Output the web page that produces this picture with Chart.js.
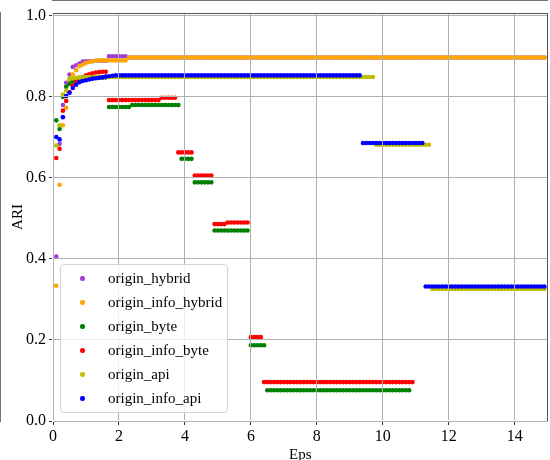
<!DOCTYPE html>
<html>
<head>
<meta charset="utf-8">
<script src="https://cdn.jsdelivr.net/npm/chart.js@4.4.0/dist/chart.umd.min.js"></script>
<style>
  html, body { margin: 0; padding: 0; background: #fff; }
  #wrap { position: relative; width: 550px; height: 460px; overflow: hidden; }
  #box { position: absolute; border-top: 1px solid #555; border-right: 1px solid #555; pointer-events: none; box-sizing: border-box; }
  #legend {
    position: absolute; left: 60px; top: 264px; width: 168px; height: 149px;
    box-sizing: border-box; padding-top: 1px;
    border: 1px solid #d4d4d4; border-radius: 4px; background: rgba(255,255,255,0.8);
    font: 15px "Liberation Serif", "Times New Roman", serif; color: #000;
  }
  #legend .item { position: relative; height: 24px; line-height: 24px; padding-left: 47px; white-space: nowrap; }
  #legend .dot { position: absolute; left: 19px; top: 10px; width: 4.5px; height: 4.5px; border-radius: 50%; }
</style>
</head>
<body>
<div id="wrap">
  <canvas id="ariChart" width="550" height="460"></canvas>
  <div id="box"></div>
  <div id="legend"></div>
</div>
<script>
// eps sweep, 0.1 .. 14.9
const eps = [
  0.1, 0.2, 0.3, 0.4, 0.5, 0.6, 0.7, 0.8, 0.9, 1.0,
  1.1, 1.2, 1.3, 1.4, 1.5, 1.6, 1.7, 1.8, 1.9, 2.0,
  2.1, 2.2, 2.3, 2.4, 2.5, 2.6, 2.7, 2.8, 2.9, 3.0,
  3.1, 3.2, 3.3, 3.4, 3.5, 3.6, 3.7, 3.8, 3.9, 4.0,
  4.1, 4.2, 4.3, 4.4, 4.5, 4.6, 4.7, 4.8, 4.9, 5.0,
  5.1, 5.2, 5.3, 5.4, 5.5, 5.6, 5.7, 5.8, 5.9, 6.0,
  6.1, 6.2, 6.3, 6.4, 6.5, 6.6, 6.7, 6.8, 6.9, 7.0,
  7.1, 7.2, 7.3, 7.4, 7.5, 7.6, 7.7, 7.8, 7.9, 8.0,
  8.1, 8.2, 8.3, 8.4, 8.5, 8.6, 8.7, 8.8, 8.9, 9.0,
  9.1, 9.2, 9.3, 9.4, 9.5, 9.6, 9.7, 9.8, 9.9, 10.0,
  10.1, 10.2, 10.3, 10.4, 10.5, 10.6, 10.7, 10.8, 10.9, 11.0,
  11.1, 11.2, 11.3, 11.4, 11.5, 11.6, 11.7, 11.8, 11.9, 12.0,
  12.1, 12.2, 12.3, 12.4, 12.5, 12.6, 12.7, 12.8, 12.9, 13.0,
  13.1, 13.2, 13.3, 13.4, 13.5, 13.6, 13.7, 13.8, 13.9, 14.0,
  14.1, 14.2, 14.3, 14.4, 14.5, 14.6, 14.7, 14.8, 14.9
];

const originHybrid = [
  0.406, 0.684, 0.780, 0.835, 0.855, 0.874, 0.878, 0.882, 0.887, 0.888,
  0.888, 0.888, 0.889, 0.889, 0.889, 0.889, 0.900, 0.900, 0.900, 0.900,
  0.900, 0.900, 0.897, 0.897, 0.897, 0.897, 0.897, 0.897, 0.897, 0.897,
  0.897, 0.897, 0.897, 0.897, 0.897, 0.897, 0.897, 0.897, 0.897, 0.897,
  0.897, 0.897, 0.897, 0.897, 0.897, 0.897, 0.897, 0.897, 0.897, 0.897,
  0.897, 0.897, 0.897, 0.897, 0.897, 0.897, 0.897, 0.897, 0.897, 0.897,
  0.897, 0.897, 0.897, 0.897, 0.897, 0.897, 0.897, 0.897, 0.897, 0.897,
  0.897, 0.897, 0.897, 0.897, 0.897, 0.897, 0.897, 0.897, 0.897, 0.897,
  0.897, 0.897, 0.897, 0.897, 0.897, 0.897, 0.897, 0.897, 0.897, 0.897,
  0.897, 0.897, 0.897, 0.897, 0.897, 0.897, 0.897, 0.897, 0.897, 0.897,
  0.897, 0.897, 0.897, 0.897, 0.897, 0.897, 0.897, 0.897, 0.897, 0.897,
  0.897, 0.897, 0.897, 0.897, 0.897, 0.897, 0.897, 0.897, 0.897, 0.897,
  0.897, 0.897, 0.897, 0.897, 0.897, 0.897, 0.897, 0.897, 0.897, 0.897,
  0.897, 0.897, 0.897, 0.897, 0.897, 0.897, 0.897, 0.897, 0.897, 0.897,
  0.897, 0.897, 0.897, 0.897, 0.897, 0.897, 0.897, 0.897, 0.897
];

const originInfoHybrid = [
  0.334, 0.583, 0.730, 0.773, 0.840, 0.855, 0.866, 0.876, 0.880, 0.884,
  0.886, 0.888, 0.889, 0.890, 0.890, 0.890, 0.890, 0.890, 0.890, 0.890,
  0.890, 0.890, 0.897, 0.897, 0.897, 0.897, 0.897, 0.897, 0.897, 0.897,
  0.897, 0.897, 0.897, 0.897, 0.897, 0.897, 0.897, 0.897, 0.897, 0.897,
  0.897, 0.897, 0.897, 0.897, 0.897, 0.897, 0.897, 0.897, 0.897, 0.897,
  0.897, 0.897, 0.897, 0.897, 0.897, 0.897, 0.897, 0.897, 0.897, 0.897,
  0.897, 0.897, 0.897, 0.897, 0.897, 0.897, 0.897, 0.897, 0.897, 0.897,
  0.897, 0.897, 0.897, 0.897, 0.897, 0.897, 0.897, 0.897, 0.897, 0.897,
  0.897, 0.897, 0.897, 0.897, 0.897, 0.897, 0.897, 0.897, 0.897, 0.897,
  0.897, 0.897, 0.897, 0.897, 0.897, 0.897, 0.897, 0.897, 0.897, 0.897,
  0.897, 0.897, 0.897, 0.897, 0.897, 0.897, 0.897, 0.897, 0.897, 0.897,
  0.897, 0.897, 0.897, 0.897, 0.897, 0.897, 0.897, 0.897, 0.897, 0.897,
  0.897, 0.897, 0.897, 0.897, 0.897, 0.897, 0.897, 0.897, 0.897, 0.897,
  0.897, 0.897, 0.897, 0.897, 0.897, 0.897, 0.897, 0.897, 0.897, 0.897,
  0.897, 0.897, 0.897, 0.897, 0.897, 0.897, 0.897, 0.897, 0.897
];

const originByte = [
  0.742, 0.721, 0.800, 0.825, 0.832, 0.838, 0.840, 0.842, 0.843, 0.844,
  0.845, 0.846, 0.847, 0.848, 0.848, 0.848, 0.775, 0.775, 0.775, 0.775,
  0.775, 0.775, 0.775, 0.780, 0.780, 0.780, 0.780, 0.780, 0.780, 0.780,
  0.780, 0.780, 0.780, 0.780, 0.780, 0.780, 0.780, 0.780, 0.647, 0.647,
  0.647, 0.647, 0.589, 0.589, 0.589, 0.589, 0.589, 0.589, 0.470, 0.470,
  0.470, 0.470, 0.470, 0.470, 0.470, 0.470, 0.470, 0.470, 0.470, 0.187,
  0.187, 0.187, 0.187, 0.187, 0.076, 0.076, 0.076, 0.076, 0.076, 0.076,
  0.076, 0.076, 0.076, 0.076, 0.076, 0.076, 0.076, 0.076, 0.076, 0.076,
  0.076, 0.076, 0.076, 0.076, 0.076, 0.076, 0.076, 0.076, 0.076, 0.076,
  0.076, 0.076, 0.076, 0.076, 0.076, 0.076, 0.076, 0.076, 0.076, 0.076,
  0.076, 0.076, 0.076, 0.076, 0.076, 0.076, 0.076, 0.076, null, null,
  null, null, null, null, null, null, null, null, null, null,
  null, null, null, null, null, null, null, null, null, null,
  null, null, null, null, null, null, null, null, null, null,
  null, null, null, null, null, null, null, null, null
];

const originInfoByte = [
  0.649, 0.672, 0.766, 0.790, 0.812, 0.828, 0.836, 0.843, 0.848, 0.853,
  0.856, 0.858, 0.860, 0.861, 0.862, 0.862, 0.792, 0.792, 0.792, 0.792,
  0.792, 0.792, 0.792, 0.792, 0.792, 0.792, 0.792, 0.792, 0.792, 0.792,
  0.792, 0.792, 0.798, 0.798, 0.798, 0.798, 0.798, 0.663, 0.663, 0.663,
  0.663, 0.663, 0.606, 0.606, 0.606, 0.606, 0.606, 0.606, 0.486, 0.486,
  0.486, 0.486, 0.490, 0.490, 0.490, 0.490, 0.490, 0.490, 0.490, 0.207,
  0.207, 0.207, 0.207, 0.096, 0.096, 0.096, 0.096, 0.096, 0.096, 0.096,
  0.096, 0.096, 0.096, 0.096, 0.096, 0.096, 0.096, 0.096, 0.096, 0.096,
  0.096, 0.096, 0.096, 0.096, 0.096, 0.096, 0.096, 0.096, 0.096, 0.096,
  0.096, 0.096, 0.096, 0.096, 0.096, 0.096, 0.096, 0.096, 0.096, 0.096,
  0.096, 0.096, 0.096, 0.096, 0.096, 0.096, 0.096, 0.096, 0.096, null,
  null, null, null, null, null, null, null, null, null, null,
  null, null, null, null, null, null, null, null, null, null,
  null, null, null, null, null, null, null, null, null, null,
  null, null, null, null, null, null, null, null, null
];

const originApi = [
  0.680, 0.730, 0.806, 0.815, 0.845, 0.846, 0.847, 0.848, 0.848, 0.849,
  0.849, 0.849, 0.849, 0.849, 0.849, 0.849, 0.849, 0.849, 0.849, 0.849,
  0.849, 0.849, 0.849, 0.849, 0.849, 0.849, 0.849, 0.849, 0.849, 0.849,
  0.849, 0.849, 0.849, 0.849, 0.849, 0.849, 0.849, 0.849, 0.849, 0.849,
  0.849, 0.849, 0.849, 0.849, 0.849, 0.849, 0.849, 0.849, 0.849, 0.849,
  0.849, 0.849, 0.849, 0.849, 0.849, 0.849, 0.849, 0.849, 0.849, 0.849,
  0.849, 0.849, 0.849, 0.849, 0.849, 0.849, 0.849, 0.849, 0.849, 0.849,
  0.849, 0.849, 0.849, 0.849, 0.849, 0.849, 0.849, 0.849, 0.849, 0.849,
  0.849, 0.849, 0.849, 0.849, 0.849, 0.849, 0.849, 0.849, 0.849, 0.849,
  0.849, 0.849, 0.849, 0.849, 0.849, 0.849, 0.849, 0.682, 0.682, 0.682,
  0.682, 0.682, 0.682, 0.682, 0.682, 0.682, 0.682, 0.682, 0.682, 0.682,
  0.682, 0.682, 0.682, 0.682, 0.326, 0.326, 0.326, 0.326, 0.326, 0.326,
  0.326, 0.326, 0.326, 0.326, 0.326, 0.326, 0.326, 0.326, 0.326, 0.326,
  0.326, 0.326, 0.326, 0.326, 0.326, 0.326, 0.326, 0.326, 0.326, 0.326,
  0.326, 0.326, 0.326, 0.326, 0.326, 0.326, 0.326, 0.326, 0.326
];

const originInfoApi = [
  0.701, 0.695, 0.750, 0.802, 0.810, 0.822, 0.830, 0.836, 0.839, 0.841,
  0.843, 0.845, 0.846, 0.847, 0.848, 0.850, 0.851, 0.852, 0.853, 0.853,
  0.853, 0.853, 0.853, 0.853, 0.853, 0.853, 0.853, 0.853, 0.853, 0.853,
  0.853, 0.853, 0.853, 0.853, 0.853, 0.853, 0.853, 0.853, 0.853, 0.853,
  0.853, 0.853, 0.853, 0.853, 0.853, 0.853, 0.853, 0.853, 0.853, 0.853,
  0.853, 0.853, 0.853, 0.853, 0.853, 0.853, 0.853, 0.853, 0.853, 0.853,
  0.853, 0.853, 0.853, 0.853, 0.853, 0.853, 0.853, 0.853, 0.853, 0.853,
  0.853, 0.853, 0.853, 0.853, 0.853, 0.853, 0.853, 0.853, 0.853, 0.853,
  0.853, 0.853, 0.853, 0.853, 0.853, 0.853, 0.853, 0.853, 0.853, 0.853,
  0.853, 0.853, 0.853, 0.686, 0.686, 0.686, 0.686, 0.686, 0.686, 0.686,
  0.686, 0.686, 0.686, 0.686, 0.686, 0.686, 0.686, 0.686, 0.686, 0.686,
  0.686, 0.686, 0.332, 0.332, 0.332, 0.332, 0.332, 0.332, 0.332, 0.332,
  0.332, 0.332, 0.332, 0.332, 0.332, 0.332, 0.332, 0.332, 0.332, 0.332,
  0.332, 0.332, 0.332, 0.332, 0.332, 0.332, 0.332, 0.332, 0.332, 0.332,
  0.332, 0.332, 0.332, 0.332, 0.332, 0.332, 0.332, 0.332, 0.332
];

const seriesNames = ['origin_hybrid', 'origin_info_hybrid', 'origin_byte', 'origin_info_byte', 'origin_api', 'origin_info_api'];
const seriesValues = [originHybrid, originInfoHybrid, originByte, originInfoByte, originApi, originInfoApi];
const seriesColors = ['#9b3fd6', '#ffa500', '#008000', '#ff0000', '#bfbf00', '#0000ff'];

const yTicks = [0.0, 0.2, 0.4, 0.6, 0.8, 1.0];
const xTicks = [0, 2, 4, 6, 8, 10, 12, 14];

const serif = '"Liberation Serif", "Times New Roman", serif';

// later series are painted over earlier ones
const datasets = seriesNames.map((name, k) => ({
  label: name,
  data: eps.map((x, i) => ({ x: x, y: seriesValues[k][i] })).filter(p => p.y !== null),
  backgroundColor: seriesColors[k],
  borderWidth: 0,
  pointRadius: 2.3,
  pointHoverRadius: 2.3,
  order: seriesNames.length - k
}));

const tickFont = { family: serif, size: 16 };
const titleFont = { family: serif, size: 15 };

const chart = new Chart(document.getElementById('ariChart'), {
  type: 'scatter',
  data: { datasets },
  options: {
    responsive: false,
    animation: false,
    layout: { padding: { top: 13, right: 2, left: 0, bottom: 0 } },
    plugins: { legend: { display: false }, tooltip: { enabled: false } },
    scales: {
      x: {
        type: 'linear', min: 0, max: 15,
        afterFit: s => { s.height = 39; },
        afterBuildTicks: s => { s.ticks = xTicks.map(v => ({ value: v })); },
        ticks: { color: '#000', font: tickFont, padding: 2, callback: v => String(v) },
        grid: { color: '#b0b0b0', lineWidth: 1, z: 1, tickLength: 4, tickColor: '#333' },
        border: { color: '#444', width: 1.5 },
        title: { display: true, text: 'Eps', color: '#000', font: titleFont, padding: { top: 0, bottom: -4 } }
      },
      y: {
        min: 0, max: 1.007,
        afterFit: s => { s.width = 53; },
        afterBuildTicks: s => { s.ticks = yTicks.map(v => ({ value: v })); },
        ticks: { color: '#000', font: tickFont, padding: 3, callback: v => v.toFixed(1) },
        grid: { color: '#b0b0b0', lineWidth: 1, z: 1, tickLength: 4, tickColor: '#333' },
        border: { color: '#444', width: 1.5 },
        title: { display: true, text: 'ARI', color: '#000', font: titleFont, padding: { top: 9, bottom: 0 } }
      }
    }
  }
});

// top and right edges of the plot frame
const area = chart.chartArea;
const box = document.getElementById('box');
box.style.left = area.left + 'px';
box.style.top = area.top + 'px';
box.style.width = (area.right - area.left) + 'px';
box.style.height = (area.bottom - area.top) + 'px';

// legend box inside the plot, lower left
const legendEl = document.getElementById('legend');
chart.data.datasets.forEach(ds => {
  const row = document.createElement('div');
  row.className = 'item';
  row.innerHTML = '<span class="dot" style="background:' + ds.backgroundColor + '"></span>' + ds.label;
  legendEl.appendChild(row);
});
</script>
</body>
</html>
